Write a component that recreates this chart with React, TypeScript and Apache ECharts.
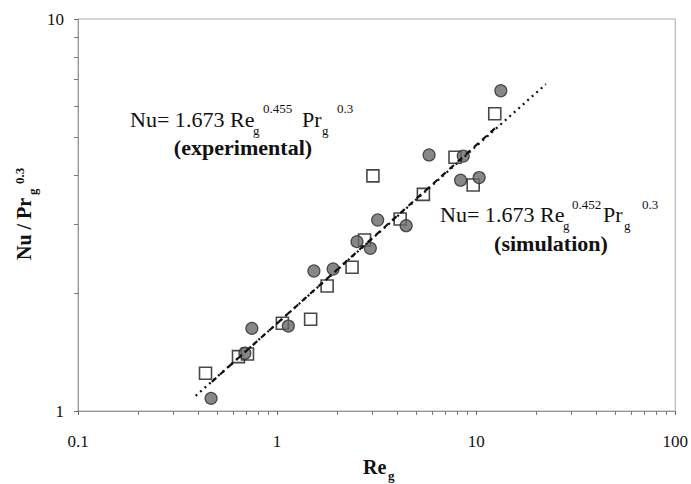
import React, { useEffect, useRef } from "react";
import * as echarts from "echarts";

// Experimental data (filled grey circles): Re_g, Nu/Pr_g^0.3
const circlesX = [0.466, 0.689, 0.747, 1.139, 1.531, 1.912, 2.52, 2.94, 3.2, 4.45, 5.8, 8.35, 8.61, 10.35, 13.3];
const circlesY = [1.077, 1.404, 1.625, 1.647, 2.276, 2.303, 2.704, 2.6, 3.07, 2.97, 4.5, 3.88, 4.47, 3.94, 6.56];

// Simulation data (open squares)
const squaresX = [0.437, 0.64, 0.71, 1.063, 1.474, 1.784, 2.38, 2.75, 3.03, 4.15, 5.43, 7.83, 9.66, 12.4];
const squaresY = [1.248, 1.376, 1.398, 1.674, 1.714, 2.084, 2.326, 2.73, 3.98, 3.09, 3.57, 4.44, 3.77, 5.73];

// Fitted power laws (straight on log-log): end points
const fitExpX = [0.47, 13];
const fitExpY = [1.187, 5.37];
const fitSimX = [0.39, 22.4];
const fitSimY = [1.093, 6.82];

const xTickLabels = ["0.1", "1", "10", "100"];
const yTickLabels = ["1", "10"];

const SERIF = "Liberation Serif";

function txt(
  text: string,
  x: number,
  y: number,
  size: number,
  opts: { bold?: boolean; align?: string; rotation?: number; scaleX?: number } = {}
) {
  const align = opts.align || "left";
  return {
    type: "text",
    x,
    y,
    rotation: opts.rotation || 0,
    scaleX: opts.scaleX || 1,
    silent: true,
    z: 100,
    style: {
      text,
      fill: "#111",
      fontFamily: SERIF,
      fontSize: size,
      fontWeight: opts.bold ? "bold" : "normal",
      align,
      verticalAlign: "middle",
      textAlign: align,
      textVerticalAlign: "middle",
    },
  };
}

export default function App() {
  const ref = useRef<HTMLDivElement>(null);
  useEffect(() => {
    if (!ref.current) return;
    const chart = echarts.init(ref.current, null, { renderer: "svg" });
    const pairs = (xs: number[], ys: number[]) => xs.map((x, i) => [x, ys[i]]);
    const SB = 1.05;
    const SM = 1.05;
    chart.setOption({
      animation: false,
      backgroundColor: "#fff",
      textStyle: { fontFamily: SERIF },
      grid: {
        left: 78,
        right: 13,
        top: 19,
        bottom: 73,
        show: true,
        borderColor: "#aaa",
        borderWidth: 1,
      },
      xAxis: {
        type: "log",
        logBase: 10,
        min: 0.1,
        max: 100,
        axisLine: { show: true, lineStyle: { color: "#999", width: 1 } },
        axisTick: { show: true, length: 4, lineStyle: { color: "#666" } },
        minorTick: { show: true, splitNumber: 9, length: 4, lineStyle: { color: "#777" } },
        splitLine: { show: false },
        axisLabel: {
          color: "#111",
          fontFamily: SERIF,
          fontSize: 17,
          margin: 22,
          formatter: (v: number) => {
            const i = Math.round(Math.log10(v)) + 1;
            return xTickLabels[i] ?? String(v);
          },
        },
      },
      yAxis: {
        type: "log",
        logBase: 10,
        min: 1,
        max: 10,
        axisLine: { show: true, lineStyle: { color: "#999", width: 1 } },
        axisTick: { show: true, length: 4, lineStyle: { color: "#666" } },
        minorTick: { show: true, splitNumber: 9, length: 4, lineStyle: { color: "#777" } },
        splitLine: { show: false },
        axisLabel: {
          color: "#111",
          fontFamily: SERIF,
          fontSize: 17,
          margin: 14,
          formatter: (v: number) => {
            const i = Math.round(Math.log10(v));
            return yTickLabels[i] ?? String(v);
          },
        },
      },
      series: [
        {
          type: "scatter",
          name: "simulation",
          data: pairs(squaresX, squaresY),
          symbol: "rect",
          symbolSize: 12,
          itemStyle: { color: "#fff", borderColor: "#1a1a1a", borderWidth: 1.6 },
          z: 2,
        },
        {
          type: "scatter",
          name: "experimental",
          data: pairs(circlesX, circlesY),
          symbol: "circle",
          symbolSize: 12,
          itemStyle: { color: "#696969", borderColor: "#2b2b2b", borderWidth: 1.2 },
          z: 3,
        },
        {
          type: "line",
          name: "fit experimental",
          data: pairs(fitExpX, fitExpY),
          showSymbol: false,
          symbol: "none",
          lineStyle: { color: "#111", width: 2.2, type: [6, 5] },
          z: 4,
        },
        {
          type: "line",
          name: "fit simulation",
          data: pairs(fitSimX, fitSimY),
          showSymbol: false,
          symbol: "none",
          lineStyle: { color: "#111", width: 2.2, type: [2, 4] },
          z: 4,
        },
      ],
      graphic: [
        // experimental correlation
        txt("Nu= 1.673 Re", 130, 120, 21, { scaleX: SM }),
        txt("g", 253, 130, 13),
        txt("0.455", 263, 108, 13),
        txt("Pr", 302, 120, 21, { scaleX: SM }),
        txt("g", 322, 130, 13),
        txt("0.3", 337, 108, 13),
        txt("(experimental)", 243, 148, 21, { bold: true, align: "center", scaleX: SB }),
        // simulation correlation
        txt("Nu= 1.673 Re", 440, 215, 21, { scaleX: SM }),
        txt("g", 563, 225, 13),
        txt("0.452", 572, 204, 13),
        txt("Pr", 603, 215, 21, { scaleX: SM }),
        txt("g", 624, 225, 13),
        txt("0.3", 642, 204, 13),
        txt("(simulation)", 551, 244, 21, { bold: true, align: "center", scaleX: SB }),
        // x axis title
        txt("Re", 363, 467, 20, { bold: true }),
        txt("g", 388, 475, 13, { bold: true }),
        // y axis title (rotated)
        txt("Nu / Pr", 24, 260, 20, { bold: true, rotation: Math.PI / 2 }),
        txt("g", 32, 195, 13, { bold: true, rotation: Math.PI / 2 }),
        txt("0.3", 19, 184, 13, { bold: true, rotation: Math.PI / 2 }),
      ],
    });
    return () => chart.dispose();
  }, []);
  return (
    <div
      ref={ref}
      style={{ position: "fixed", left: 0, top: 0, width: 691, height: 484, background: "#fff" }}
    />
  );
}
